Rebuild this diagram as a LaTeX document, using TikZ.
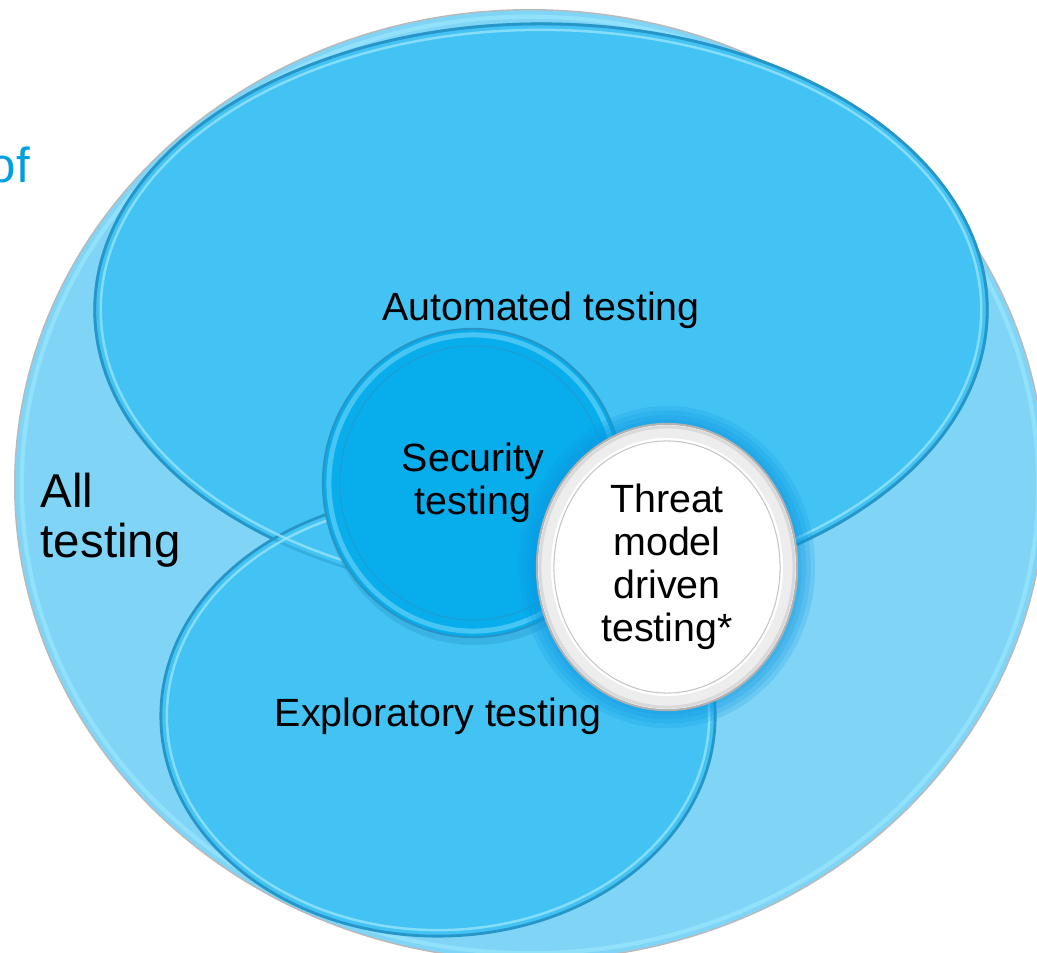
\documentclass[tikz,border=0pt]{standalone}
\usepackage{fontspec}
\setmainfont{Liberation Sans}
\usetikzlibrary{positioning,shapes.geometric}
\definecolor{allBlue}{RGB}{128,213,246}
\definecolor{setBlue}{RGB}{67,195,244}
\definecolor{secBlue}{RGB}{8,173,236}
\definecolor{rimBlue}{RGB}{38,150,200}
\definecolor{hiBlue}{RGB}{150,228,252}
\definecolor{glowBlue}{RGB}{10,150,225}
\definecolor{ofBlue}{RGB}{0,160,224}
\tikzset{outerset/.style={ellipse, fill=allBlue, draw=gray!55, line width=0.4pt, inner sep=0pt}}
\tikzset{setlens/.style={ellipse, fill=setBlue, draw=rimBlue, line width=0.8pt, inner sep=0pt}}
\tikzset{rimline/.style={draw=rimBlue, line width=0.8pt}}
\tikzset{hiline/.style={draw=hiBlue, line width=0.7pt, opacity=0.8}}
\tikzset{lbl/.style={font=\fontsize{11.2}{12.2}\selectfont, align=center, text=black}}
\tikzset{biglbl/.style={font=\fontsize{13.5}{14.2}\selectfont, align=left, inner sep=0pt, text=black}}

\begin{document}
\begin{tikzpicture}[x=0.01cm, y=-0.01cm]
	\useasboundingbox (0,0) rectangle (1037,952);
	% all testing
	\node[outerset, minimum width=10.30cm, minimum height=9.50cm] (all) at (530,485) {};
	\draw[hiline, line width=1.2pt] (all.center) ellipse [x radius=5.08cm, y radius=4.68cm];
	% automated / exploratory
	\node[setlens, lbl, minimum width=8.92cm, minimum height=5.72cm] (auto) at (541,310) {Automated testing};
	\node[setlens, lbl, minimum width=5.54cm, minimum height=4.40cm] (expl) at (438,716) {Exploratory testing};
	\draw[rimline, opacity=.45] (auto.center) ellipse [x radius=4.46cm, y radius=2.86cm];
	\draw[hiline] (auto.center) ellipse [x radius=4.40cm, y radius=2.80cm];
	\draw[hiline] (expl.center) ellipse [x radius=2.71cm, y radius=2.14cm];
	% security
	\fill[rimBlue, opacity=.35] (475,490) ellipse [x radius=1.51cm, y radius=1.55cm];
	\node[ellipse, fill=secBlue, draw=rimBlue, line width=0.6pt, lbl, minimum width=3.00cm, minimum height=3.08cm] (sec) at (473,483) {Security\\testing};
	\draw[draw=hiBlue!45!secBlue, line width=0.05cm] (sec.center) ellipse [x radius=1.44cm, y radius=1.48cm];
	\draw[draw=rimBlue!70!secBlue, line width=0.3pt] (sec.center) ellipse [x radius=1.33cm, y radius=1.37cm];
	% threat model driven
	\coordinate (tc) at (667,567);
	\foreach \g in {1,...,4}
		\fill[glowBlue, opacity=.18] (tc) ellipse [x radius=1.30cm+\g*0.045cm, y radius=1.43cm+\g*0.045cm];
	\node[ellipse, fill=white, draw=gray!60, line width=0.6pt, lbl, minimum width=2.60cm, minimum height=2.86cm] (threat) at (tc) {Threat\\model\\driven\\testing*};
	\draw[draw=gray!14, line width=0.12cm] (threat.center) ellipse [x radius=1.22cm, y radius=1.35cm];
	\draw[draw=gray!30, line width=0.03cm] (threat.center) ellipse [x radius=1.27cm, y radius=1.40cm];
	\draw[draw=gray!45, line width=0.3pt] (threat.center) ellipse [x radius=1.13cm, y radius=1.26cm];
	% labels
	\node[biglbl, anchor=north west] (allLbl) at (40,472) {All\\testing};
	\node[font=\fontsize{14}{16}\selectfont, text=ofBlue, inner sep=0pt, anchor=base west] (ofLbl) at (-12,183) {of};
\end{tikzpicture}
\end{document}
